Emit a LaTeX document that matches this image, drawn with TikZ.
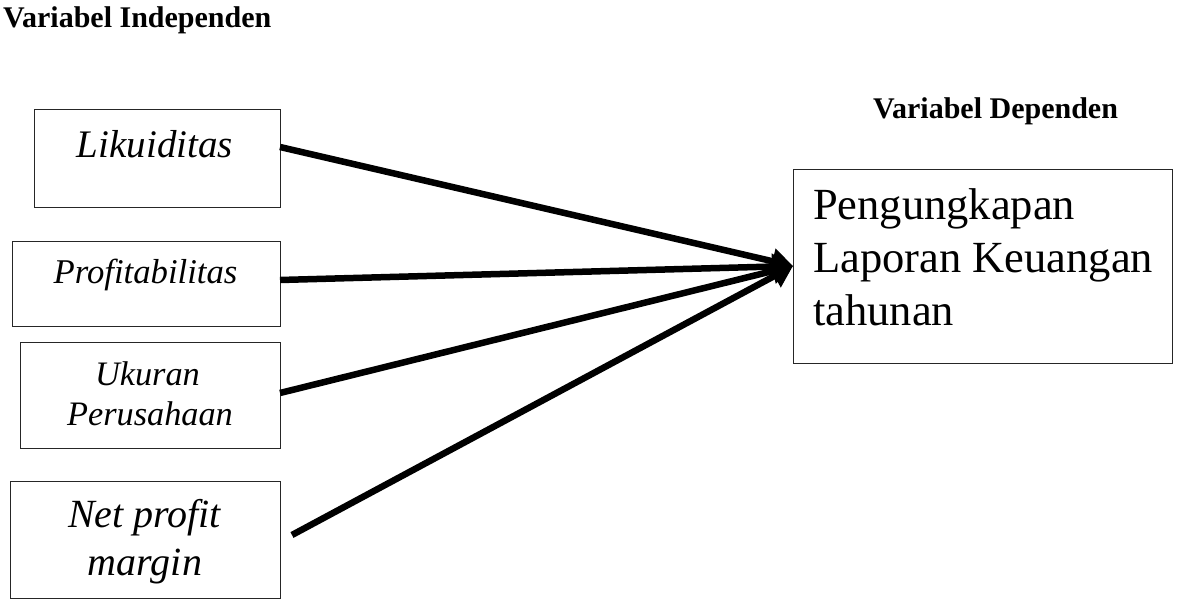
\documentclass[tikz,border=0pt]{standalone}
\usepackage{fontspec}
\setmainfont{Liberation Serif}
\usetikzlibrary{arrows.meta}
\begin{document}
\begin{tikzpicture}[x=1pt,y=-1pt,
  box/.style={draw=black!85,line width=1pt,inner sep=0pt,outer sep=0pt},
  txt/.style={inner sep=0pt,anchor=base},
  hdr/.style={inner sep=0pt,anchor=base west,font=\fontsize{30}{36}\selectfont\bfseries},
  arr/.style={line width=6.5pt,-{Triangle[length=21pt,width=25pt]}}]
\useasboundingbox (0,0) rectangle (1184,602);
% headers
\node[hdr] (hind) at (3,28) {Variabel Independen};
\node[hdr] (hdep) at (873,118) {Variabel Dependen};
% independent boxes
\node[box,minimum width=246pt,minimum height=98pt] (lik) at (157,158) {};
\node[box,minimum width=268pt,minimum height=85pt] (prof) at (146,284) {};
\node[box,minimum width=260pt,minimum height=106pt] (uk) at (150,395) {};
\node[box,minimum width=270pt,minimum height=117pt] (net) at (145,539.5) {};
% dependent box
\node[box,minimum width=379pt,minimum height=194pt] (dep) at (982.5,266) {};
% texts
\node[txt,font=\fontsize{39}{47}\selectfont\itshape] (tlik) at (155,157) {Likuiditas};
\node[txt,font=\fontsize{34.7}{41}\selectfont\itshape] (tprof) at (145.5,283) {Profitabilitas};
\node[txt,font=\fontsize{34.3}{41}\selectfont\itshape] (tuk1) at (147.5,385) {Ukuran};
\node[txt,font=\fontsize{34.3}{41}\selectfont\itshape] (tuk2) at (150,425) {Perusahaan};
\node[txt,font=\fontsize{40}{48}\selectfont\itshape] (tnet1) at (144.5,527) {Net profit};
\node[txt,font=\fontsize{40}{48}\selectfont\itshape] (tnet2) at (145,575) {margin};
\node[txt,anchor=base west,font=\fontsize{44.5}{53}\selectfont] (td1) at (813,219) {Pengungkapan};
\node[txt,anchor=base west,font=\fontsize{44.5}{53}\selectfont] (td2) at (813,272) {Laporan Keuangan};
\node[txt,anchor=base west,font=\fontsize{44.5}{53}\selectfont] (td3) at (813,325) {tahunan};
% arrows
\draw[arr] ([yshift=11pt]lik.east) -- (dep.west);
\draw[arr] ([yshift=4pt]prof.east) -- (dep.west);
\draw[arr] ([yshift=2pt]uk.east) -- (dep.west);
\draw[arr] ([xshift=12pt,yshift=4.5pt]net.east) -- (dep.west);
\end{tikzpicture}
\end{document}
